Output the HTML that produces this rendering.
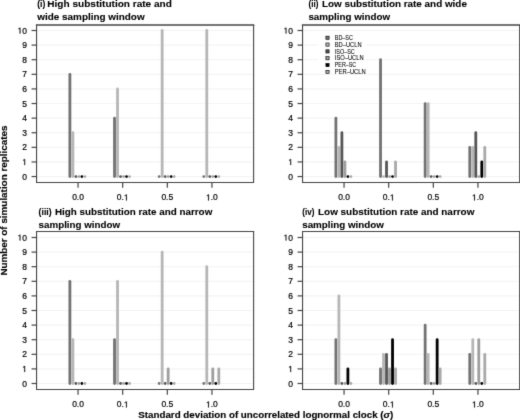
<!DOCTYPE html>
<html><head><meta charset="utf-8"><style>
html,body{margin:0;padding:0;background:#fff;}
body{width:520px;height:420px;overflow:hidden;}
svg{display:block;}
text{font-family:"Liberation Sans",sans-serif;}
.tl{font-size:8.5px;fill:#000;stroke:#000;stroke-width:0.2px;}
.one{fill:#000;stroke:#000;stroke-width:48px;}
.tt{font-size:9.9px;font-weight:bold;fill:#000;stroke:#000;stroke-width:0.1px;}
.at{font-size:9.78px;font-weight:bold;fill:#000;stroke:#000;stroke-width:0.15px;}
.lg{font-size:6.3px;fill:#000;stroke:#000;stroke-width:0.06px;}
</style></head><body>
<svg width="520" height="420" viewBox="0 0 520 420">
<defs><filter id="bl" x="0" y="0" width="520" height="420" filterUnits="userSpaceOnUse" color-interpolation-filters="sRGB"><feConvolveMatrix order="3" kernelMatrix="0.01134 0.08382 0.01134 0.08382 0.61935 0.08382 0.01134 0.08382 0.01134" edgeMode="duplicate" preserveAlpha="false"/></filter></defs>
<rect width="520" height="420" fill="#fff"/>
<g filter="url(#bl)">
<rect width="520" height="420" fill="#fff"/>
<line x1="36.55" y1="176.55" x2="253.60" y2="176.55" stroke="#efefef" stroke-width="0.8"/>
<line x1="36.55" y1="161.95" x2="253.60" y2="161.95" stroke="#efefef" stroke-width="0.8"/>
<line x1="36.55" y1="147.34" x2="253.60" y2="147.34" stroke="#efefef" stroke-width="0.8"/>
<line x1="36.55" y1="132.74" x2="253.60" y2="132.74" stroke="#efefef" stroke-width="0.8"/>
<line x1="36.55" y1="118.13" x2="253.60" y2="118.13" stroke="#efefef" stroke-width="0.8"/>
<line x1="36.55" y1="103.53" x2="253.60" y2="103.53" stroke="#efefef" stroke-width="0.8"/>
<line x1="36.55" y1="88.92" x2="253.60" y2="88.92" stroke="#efefef" stroke-width="0.8"/>
<line x1="36.55" y1="74.32" x2="253.60" y2="74.32" stroke="#efefef" stroke-width="0.8"/>
<line x1="36.55" y1="59.71" x2="253.60" y2="59.71" stroke="#efefef" stroke-width="0.8"/>
<line x1="36.55" y1="45.11" x2="253.60" y2="45.11" stroke="#efefef" stroke-width="0.8"/>
<line x1="36.55" y1="30.50" x2="253.60" y2="30.50" stroke="#efefef" stroke-width="0.8"/>
<line x1="69.90" y1="176.55" x2="69.90" y2="74.32" stroke="#727272" stroke-width="2.8" stroke-linecap="round"/>
<line x1="72.90" y1="176.55" x2="72.90" y2="132.74" stroke="#b6b6b6" stroke-width="2.8" stroke-linecap="round"/>
<line x1="75.90" y1="176.55" x2="75.90" y2="176.55" stroke="#555555" stroke-width="2.8" stroke-linecap="round"/>
<line x1="78.90" y1="176.55" x2="78.90" y2="176.55" stroke="#9e9e9e" stroke-width="2.8" stroke-linecap="round"/>
<line x1="81.90" y1="176.55" x2="81.90" y2="176.55" stroke="#000000" stroke-width="2.8" stroke-linecap="round"/>
<line x1="84.90" y1="176.55" x2="84.90" y2="176.55" stroke="#a9a9a9" stroke-width="2.8" stroke-linecap="round"/>
<line x1="114.53" y1="176.55" x2="114.53" y2="118.13" stroke="#727272" stroke-width="2.8" stroke-linecap="round"/>
<line x1="117.53" y1="176.55" x2="117.53" y2="88.92" stroke="#b6b6b6" stroke-width="2.8" stroke-linecap="round"/>
<line x1="120.53" y1="176.55" x2="120.53" y2="176.55" stroke="#555555" stroke-width="2.8" stroke-linecap="round"/>
<line x1="123.53" y1="176.55" x2="123.53" y2="176.55" stroke="#9e9e9e" stroke-width="2.8" stroke-linecap="round"/>
<line x1="126.53" y1="176.55" x2="126.53" y2="176.55" stroke="#000000" stroke-width="2.8" stroke-linecap="round"/>
<line x1="129.53" y1="176.55" x2="129.53" y2="176.55" stroke="#a9a9a9" stroke-width="2.8" stroke-linecap="round"/>
<line x1="159.16" y1="176.55" x2="159.16" y2="176.55" stroke="#727272" stroke-width="2.8" stroke-linecap="round"/>
<line x1="162.16" y1="176.55" x2="162.16" y2="30.50" stroke="#b6b6b6" stroke-width="2.8" stroke-linecap="round"/>
<line x1="165.16" y1="176.55" x2="165.16" y2="176.55" stroke="#555555" stroke-width="2.8" stroke-linecap="round"/>
<line x1="168.16" y1="176.55" x2="168.16" y2="176.55" stroke="#9e9e9e" stroke-width="2.8" stroke-linecap="round"/>
<line x1="171.16" y1="176.55" x2="171.16" y2="176.55" stroke="#000000" stroke-width="2.8" stroke-linecap="round"/>
<line x1="174.16" y1="176.55" x2="174.16" y2="176.55" stroke="#a9a9a9" stroke-width="2.8" stroke-linecap="round"/>
<line x1="203.79" y1="176.55" x2="203.79" y2="176.55" stroke="#727272" stroke-width="2.8" stroke-linecap="round"/>
<line x1="206.79" y1="176.55" x2="206.79" y2="30.50" stroke="#b6b6b6" stroke-width="2.8" stroke-linecap="round"/>
<line x1="209.79" y1="176.55" x2="209.79" y2="176.55" stroke="#555555" stroke-width="2.8" stroke-linecap="round"/>
<line x1="212.79" y1="176.55" x2="212.79" y2="176.55" stroke="#9e9e9e" stroke-width="2.8" stroke-linecap="round"/>
<line x1="215.79" y1="176.55" x2="215.79" y2="176.55" stroke="#000000" stroke-width="2.8" stroke-linecap="round"/>
<line x1="218.79" y1="176.55" x2="218.79" y2="176.55" stroke="#a9a9a9" stroke-width="2.8" stroke-linecap="round"/>
<path d="M36.55,24.98H253.60" stroke="#444" stroke-width="1.4" fill="none" stroke-linecap="square"/>
<path d="M36.55,24.98V182.50H253.60V24.98" stroke="#444" stroke-width="1.1" fill="none" stroke-linejoin="round"/>
<line x1="31.55" y1="176.55" x2="36.55" y2="176.55" stroke="#444" stroke-width="1.2"/>
<text x="22.22" y="179.60" class="tl">0</text>
<line x1="31.55" y1="161.95" x2="36.55" y2="161.95" stroke="#444" stroke-width="1.2"/>
<path class="one" transform="translate(22.22,165.00) scale(0.004150,-0.004150)" d="M515 0V1237L197 1010V1180L530 1409H696V0Z"/>
<line x1="31.55" y1="147.34" x2="36.55" y2="147.34" stroke="#444" stroke-width="1.2"/>
<text x="22.22" y="150.39" class="tl">2</text>
<line x1="31.55" y1="132.74" x2="36.55" y2="132.74" stroke="#444" stroke-width="1.2"/>
<text x="22.22" y="135.79" class="tl">3</text>
<line x1="31.55" y1="118.13" x2="36.55" y2="118.13" stroke="#444" stroke-width="1.2"/>
<text x="22.22" y="121.18" class="tl">4</text>
<line x1="31.55" y1="103.53" x2="36.55" y2="103.53" stroke="#444" stroke-width="1.2"/>
<text x="22.22" y="106.58" class="tl">5</text>
<line x1="31.55" y1="88.92" x2="36.55" y2="88.92" stroke="#444" stroke-width="1.2"/>
<text x="22.22" y="91.97" class="tl">6</text>
<line x1="31.55" y1="74.32" x2="36.55" y2="74.32" stroke="#444" stroke-width="1.2"/>
<text x="22.22" y="77.37" class="tl">7</text>
<line x1="31.55" y1="59.71" x2="36.55" y2="59.71" stroke="#444" stroke-width="1.2"/>
<text x="22.22" y="62.76" class="tl">8</text>
<line x1="31.55" y1="45.11" x2="36.55" y2="45.11" stroke="#444" stroke-width="1.2"/>
<text x="22.22" y="48.16" class="tl">9</text>
<line x1="31.55" y1="30.50" x2="36.55" y2="30.50" stroke="#444" stroke-width="1.2"/>
<path class="one" transform="translate(17.50,33.55) scale(0.004150,-0.004150)" d="M515 0V1237L197 1010V1180L530 1409H696V0Z"/><text x="22.22" y="33.55" class="tl">0</text>
<line x1="78.05" y1="182.50" x2="78.05" y2="187.80" stroke="#444" stroke-width="1.2"/>
<text x="72.14" y="200.40" class="tl">0.0</text>
<line x1="122.68" y1="182.50" x2="122.68" y2="187.80" stroke="#444" stroke-width="1.2"/>
<text x="116.77" y="200.40" class="tl">0.</text><path class="one" transform="translate(123.86,200.40) scale(0.004150,-0.004150)" d="M515 0V1237L197 1010V1180L530 1409H696V0Z"/>
<line x1="167.31" y1="182.50" x2="167.31" y2="187.80" stroke="#444" stroke-width="1.2"/>
<text x="161.40" y="200.40" class="tl">0.5</text>
<line x1="211.94" y1="182.50" x2="211.94" y2="187.80" stroke="#444" stroke-width="1.2"/>
<path class="one" transform="translate(206.03,200.40) scale(0.004150,-0.004150)" d="M515 0V1237L197 1010V1180L530 1409H696V0Z"/><text x="210.76" y="200.40" class="tl">.0</text>
<text x="37.20" y="7.35" class="tt" textLength="8.10" lengthAdjust="spacingAndGlyphs">(i)</text>
<text x="47.30" y="7.35" class="tt" textLength="124.60" lengthAdjust="spacingAndGlyphs">High substitution rate and</text>
<text x="37.30" y="19.75" class="tt" textLength="107.30" lengthAdjust="spacingAndGlyphs">wide sampling window</text>
<line x1="302.55" y1="176.55" x2="519.70" y2="176.55" stroke="#efefef" stroke-width="0.8"/>
<line x1="302.55" y1="161.95" x2="519.70" y2="161.95" stroke="#efefef" stroke-width="0.8"/>
<line x1="302.55" y1="147.34" x2="519.70" y2="147.34" stroke="#efefef" stroke-width="0.8"/>
<line x1="302.55" y1="132.74" x2="519.70" y2="132.74" stroke="#efefef" stroke-width="0.8"/>
<line x1="302.55" y1="118.13" x2="519.70" y2="118.13" stroke="#efefef" stroke-width="0.8"/>
<line x1="302.55" y1="103.53" x2="519.70" y2="103.53" stroke="#efefef" stroke-width="0.8"/>
<line x1="302.55" y1="88.92" x2="519.70" y2="88.92" stroke="#efefef" stroke-width="0.8"/>
<line x1="302.55" y1="74.32" x2="519.70" y2="74.32" stroke="#efefef" stroke-width="0.8"/>
<line x1="302.55" y1="59.71" x2="519.70" y2="59.71" stroke="#efefef" stroke-width="0.8"/>
<line x1="302.55" y1="45.11" x2="519.70" y2="45.11" stroke="#efefef" stroke-width="0.8"/>
<line x1="302.55" y1="30.50" x2="519.70" y2="30.50" stroke="#efefef" stroke-width="0.8"/>
<line x1="335.90" y1="176.55" x2="335.90" y2="118.13" stroke="#727272" stroke-width="2.8" stroke-linecap="round"/>
<line x1="338.90" y1="176.55" x2="338.90" y2="147.34" stroke="#b6b6b6" stroke-width="2.8" stroke-linecap="round"/>
<line x1="341.90" y1="176.55" x2="341.90" y2="132.74" stroke="#555555" stroke-width="2.8" stroke-linecap="round"/>
<line x1="344.90" y1="176.55" x2="344.90" y2="161.95" stroke="#9e9e9e" stroke-width="2.8" stroke-linecap="round"/>
<line x1="347.90" y1="176.55" x2="347.90" y2="176.55" stroke="#000000" stroke-width="2.8" stroke-linecap="round"/>
<line x1="350.90" y1="176.55" x2="350.90" y2="176.55" stroke="#a9a9a9" stroke-width="2.8" stroke-linecap="round"/>
<line x1="380.53" y1="176.55" x2="380.53" y2="59.71" stroke="#727272" stroke-width="2.8" stroke-linecap="round"/>
<line x1="383.53" y1="176.55" x2="383.53" y2="176.55" stroke="#b6b6b6" stroke-width="2.8" stroke-linecap="round"/>
<line x1="386.53" y1="176.55" x2="386.53" y2="161.95" stroke="#555555" stroke-width="2.8" stroke-linecap="round"/>
<line x1="389.53" y1="176.55" x2="389.53" y2="176.55" stroke="#9e9e9e" stroke-width="2.8" stroke-linecap="round"/>
<line x1="392.53" y1="176.55" x2="392.53" y2="176.55" stroke="#000000" stroke-width="2.8" stroke-linecap="round"/>
<line x1="395.53" y1="176.55" x2="395.53" y2="161.95" stroke="#a9a9a9" stroke-width="2.8" stroke-linecap="round"/>
<line x1="425.16" y1="176.55" x2="425.16" y2="103.53" stroke="#727272" stroke-width="2.8" stroke-linecap="round"/>
<line x1="428.16" y1="176.55" x2="428.16" y2="103.53" stroke="#b6b6b6" stroke-width="2.8" stroke-linecap="round"/>
<line x1="431.16" y1="176.55" x2="431.16" y2="176.55" stroke="#555555" stroke-width="2.8" stroke-linecap="round"/>
<line x1="434.16" y1="176.55" x2="434.16" y2="176.55" stroke="#9e9e9e" stroke-width="2.8" stroke-linecap="round"/>
<line x1="437.16" y1="176.55" x2="437.16" y2="176.55" stroke="#000000" stroke-width="2.8" stroke-linecap="round"/>
<line x1="440.16" y1="176.55" x2="440.16" y2="176.55" stroke="#a9a9a9" stroke-width="2.8" stroke-linecap="round"/>
<line x1="469.79" y1="176.55" x2="469.79" y2="147.34" stroke="#727272" stroke-width="2.8" stroke-linecap="round"/>
<line x1="472.79" y1="176.55" x2="472.79" y2="147.34" stroke="#b6b6b6" stroke-width="2.8" stroke-linecap="round"/>
<line x1="475.79" y1="176.55" x2="475.79" y2="132.74" stroke="#555555" stroke-width="2.8" stroke-linecap="round"/>
<line x1="478.79" y1="176.55" x2="478.79" y2="176.55" stroke="#9e9e9e" stroke-width="2.8" stroke-linecap="round"/>
<line x1="481.79" y1="176.55" x2="481.79" y2="161.95" stroke="#000000" stroke-width="2.8" stroke-linecap="round"/>
<line x1="484.79" y1="176.55" x2="484.79" y2="147.34" stroke="#a9a9a9" stroke-width="2.8" stroke-linecap="round"/>
<path d="M302.55,24.98H519.70" stroke="#444" stroke-width="1.4" fill="none" stroke-linecap="square"/>
<path d="M302.55,24.98V182.50H519.70V24.98" stroke="#444" stroke-width="1.1" fill="none" stroke-linejoin="round"/>
<line x1="297.55" y1="176.55" x2="302.55" y2="176.55" stroke="#444" stroke-width="1.2"/>
<text x="288.22" y="179.60" class="tl">0</text>
<line x1="297.55" y1="161.95" x2="302.55" y2="161.95" stroke="#444" stroke-width="1.2"/>
<path class="one" transform="translate(288.22,165.00) scale(0.004150,-0.004150)" d="M515 0V1237L197 1010V1180L530 1409H696V0Z"/>
<line x1="297.55" y1="147.34" x2="302.55" y2="147.34" stroke="#444" stroke-width="1.2"/>
<text x="288.22" y="150.39" class="tl">2</text>
<line x1="297.55" y1="132.74" x2="302.55" y2="132.74" stroke="#444" stroke-width="1.2"/>
<text x="288.22" y="135.79" class="tl">3</text>
<line x1="297.55" y1="118.13" x2="302.55" y2="118.13" stroke="#444" stroke-width="1.2"/>
<text x="288.22" y="121.18" class="tl">4</text>
<line x1="297.55" y1="103.53" x2="302.55" y2="103.53" stroke="#444" stroke-width="1.2"/>
<text x="288.22" y="106.58" class="tl">5</text>
<line x1="297.55" y1="88.92" x2="302.55" y2="88.92" stroke="#444" stroke-width="1.2"/>
<text x="288.22" y="91.97" class="tl">6</text>
<line x1="297.55" y1="74.32" x2="302.55" y2="74.32" stroke="#444" stroke-width="1.2"/>
<text x="288.22" y="77.37" class="tl">7</text>
<line x1="297.55" y1="59.71" x2="302.55" y2="59.71" stroke="#444" stroke-width="1.2"/>
<text x="288.22" y="62.76" class="tl">8</text>
<line x1="297.55" y1="45.11" x2="302.55" y2="45.11" stroke="#444" stroke-width="1.2"/>
<text x="288.22" y="48.16" class="tl">9</text>
<line x1="297.55" y1="30.50" x2="302.55" y2="30.50" stroke="#444" stroke-width="1.2"/>
<path class="one" transform="translate(283.50,33.55) scale(0.004150,-0.004150)" d="M515 0V1237L197 1010V1180L530 1409H696V0Z"/><text x="288.22" y="33.55" class="tl">0</text>
<line x1="344.05" y1="182.50" x2="344.05" y2="187.80" stroke="#444" stroke-width="1.2"/>
<text x="338.14" y="200.40" class="tl">0.0</text>
<line x1="388.68" y1="182.50" x2="388.68" y2="187.80" stroke="#444" stroke-width="1.2"/>
<text x="382.77" y="200.40" class="tl">0.</text><path class="one" transform="translate(389.86,200.40) scale(0.004150,-0.004150)" d="M515 0V1237L197 1010V1180L530 1409H696V0Z"/>
<line x1="433.31" y1="182.50" x2="433.31" y2="187.80" stroke="#444" stroke-width="1.2"/>
<text x="427.40" y="200.40" class="tl">0.5</text>
<line x1="477.94" y1="182.50" x2="477.94" y2="187.80" stroke="#444" stroke-width="1.2"/>
<path class="one" transform="translate(472.03,200.40) scale(0.004150,-0.004150)" d="M515 0V1237L197 1010V1180L530 1409H696V0Z"/><text x="476.76" y="200.40" class="tl">.0</text>
<text x="308.50" y="7.25" class="tt" textLength="9.85" lengthAdjust="spacingAndGlyphs">(ii)</text>
<text x="321.90" y="7.25" class="tt" textLength="145.00" lengthAdjust="spacingAndGlyphs">Low substitution rate and wide</text>
<text x="308.40" y="19.85" class="tt" textLength="81.70" lengthAdjust="spacingAndGlyphs">sampling window</text>
<line x1="36.55" y1="383.50" x2="253.60" y2="383.50" stroke="#efefef" stroke-width="0.8"/>
<line x1="36.55" y1="368.90" x2="253.60" y2="368.90" stroke="#efefef" stroke-width="0.8"/>
<line x1="36.55" y1="354.30" x2="253.60" y2="354.30" stroke="#efefef" stroke-width="0.8"/>
<line x1="36.55" y1="339.70" x2="253.60" y2="339.70" stroke="#efefef" stroke-width="0.8"/>
<line x1="36.55" y1="325.10" x2="253.60" y2="325.10" stroke="#efefef" stroke-width="0.8"/>
<line x1="36.55" y1="310.50" x2="253.60" y2="310.50" stroke="#efefef" stroke-width="0.8"/>
<line x1="36.55" y1="295.90" x2="253.60" y2="295.90" stroke="#efefef" stroke-width="0.8"/>
<line x1="36.55" y1="281.30" x2="253.60" y2="281.30" stroke="#efefef" stroke-width="0.8"/>
<line x1="36.55" y1="266.70" x2="253.60" y2="266.70" stroke="#efefef" stroke-width="0.8"/>
<line x1="36.55" y1="252.10" x2="253.60" y2="252.10" stroke="#efefef" stroke-width="0.8"/>
<line x1="36.55" y1="237.50" x2="253.60" y2="237.50" stroke="#efefef" stroke-width="0.8"/>
<line x1="69.90" y1="383.50" x2="69.90" y2="281.30" stroke="#727272" stroke-width="2.8" stroke-linecap="round"/>
<line x1="72.90" y1="383.50" x2="72.90" y2="339.70" stroke="#b6b6b6" stroke-width="2.8" stroke-linecap="round"/>
<line x1="75.90" y1="383.50" x2="75.90" y2="383.50" stroke="#555555" stroke-width="2.8" stroke-linecap="round"/>
<line x1="78.90" y1="383.50" x2="78.90" y2="383.50" stroke="#9e9e9e" stroke-width="2.8" stroke-linecap="round"/>
<line x1="81.90" y1="383.50" x2="81.90" y2="383.50" stroke="#000000" stroke-width="2.8" stroke-linecap="round"/>
<line x1="84.90" y1="383.50" x2="84.90" y2="383.50" stroke="#a9a9a9" stroke-width="2.8" stroke-linecap="round"/>
<line x1="114.53" y1="383.50" x2="114.53" y2="339.70" stroke="#727272" stroke-width="2.8" stroke-linecap="round"/>
<line x1="117.53" y1="383.50" x2="117.53" y2="281.30" stroke="#b6b6b6" stroke-width="2.8" stroke-linecap="round"/>
<line x1="120.53" y1="383.50" x2="120.53" y2="383.50" stroke="#555555" stroke-width="2.8" stroke-linecap="round"/>
<line x1="123.53" y1="383.50" x2="123.53" y2="383.50" stroke="#9e9e9e" stroke-width="2.8" stroke-linecap="round"/>
<line x1="126.53" y1="383.50" x2="126.53" y2="383.50" stroke="#000000" stroke-width="2.8" stroke-linecap="round"/>
<line x1="129.53" y1="383.50" x2="129.53" y2="383.50" stroke="#a9a9a9" stroke-width="2.8" stroke-linecap="round"/>
<line x1="159.16" y1="383.50" x2="159.16" y2="383.50" stroke="#727272" stroke-width="2.8" stroke-linecap="round"/>
<line x1="162.16" y1="383.50" x2="162.16" y2="252.10" stroke="#b6b6b6" stroke-width="2.8" stroke-linecap="round"/>
<line x1="165.16" y1="383.50" x2="165.16" y2="383.50" stroke="#555555" stroke-width="2.8" stroke-linecap="round"/>
<line x1="168.16" y1="383.50" x2="168.16" y2="368.90" stroke="#9e9e9e" stroke-width="2.8" stroke-linecap="round"/>
<line x1="171.16" y1="383.50" x2="171.16" y2="383.50" stroke="#000000" stroke-width="2.8" stroke-linecap="round"/>
<line x1="174.16" y1="383.50" x2="174.16" y2="383.50" stroke="#a9a9a9" stroke-width="2.8" stroke-linecap="round"/>
<line x1="203.79" y1="383.50" x2="203.79" y2="383.50" stroke="#727272" stroke-width="2.8" stroke-linecap="round"/>
<line x1="206.79" y1="383.50" x2="206.79" y2="266.70" stroke="#b6b6b6" stroke-width="2.8" stroke-linecap="round"/>
<line x1="209.79" y1="383.50" x2="209.79" y2="383.50" stroke="#555555" stroke-width="2.8" stroke-linecap="round"/>
<line x1="212.79" y1="383.50" x2="212.79" y2="368.90" stroke="#9e9e9e" stroke-width="2.8" stroke-linecap="round"/>
<line x1="215.79" y1="383.50" x2="215.79" y2="383.50" stroke="#000000" stroke-width="2.8" stroke-linecap="round"/>
<line x1="218.79" y1="383.50" x2="218.79" y2="368.90" stroke="#a9a9a9" stroke-width="2.8" stroke-linecap="round"/>
<path d="M36.55,231.50H253.60" stroke="#444" stroke-width="1.1" fill="none" stroke-linecap="square"/>
<path d="M36.55,231.50V389.50H253.60V231.50" stroke="#444" stroke-width="1.1" fill="none" stroke-linejoin="round"/>
<line x1="31.55" y1="383.50" x2="36.55" y2="383.50" stroke="#444" stroke-width="1.2"/>
<text x="22.22" y="386.55" class="tl">0</text>
<line x1="31.55" y1="368.90" x2="36.55" y2="368.90" stroke="#444" stroke-width="1.2"/>
<path class="one" transform="translate(22.22,371.95) scale(0.004150,-0.004150)" d="M515 0V1237L197 1010V1180L530 1409H696V0Z"/>
<line x1="31.55" y1="354.30" x2="36.55" y2="354.30" stroke="#444" stroke-width="1.2"/>
<text x="22.22" y="357.35" class="tl">2</text>
<line x1="31.55" y1="339.70" x2="36.55" y2="339.70" stroke="#444" stroke-width="1.2"/>
<text x="22.22" y="342.75" class="tl">3</text>
<line x1="31.55" y1="325.10" x2="36.55" y2="325.10" stroke="#444" stroke-width="1.2"/>
<text x="22.22" y="328.15" class="tl">4</text>
<line x1="31.55" y1="310.50" x2="36.55" y2="310.50" stroke="#444" stroke-width="1.2"/>
<text x="22.22" y="313.55" class="tl">5</text>
<line x1="31.55" y1="295.90" x2="36.55" y2="295.90" stroke="#444" stroke-width="1.2"/>
<text x="22.22" y="298.95" class="tl">6</text>
<line x1="31.55" y1="281.30" x2="36.55" y2="281.30" stroke="#444" stroke-width="1.2"/>
<text x="22.22" y="284.35" class="tl">7</text>
<line x1="31.55" y1="266.70" x2="36.55" y2="266.70" stroke="#444" stroke-width="1.2"/>
<text x="22.22" y="269.75" class="tl">8</text>
<line x1="31.55" y1="252.10" x2="36.55" y2="252.10" stroke="#444" stroke-width="1.2"/>
<text x="22.22" y="255.15" class="tl">9</text>
<line x1="31.55" y1="237.50" x2="36.55" y2="237.50" stroke="#444" stroke-width="1.2"/>
<path class="one" transform="translate(17.50,240.55) scale(0.004150,-0.004150)" d="M515 0V1237L197 1010V1180L530 1409H696V0Z"/><text x="22.22" y="240.55" class="tl">0</text>
<line x1="78.05" y1="389.50" x2="78.05" y2="394.80" stroke="#444" stroke-width="1.2"/>
<text x="72.14" y="407.40" class="tl">0.0</text>
<line x1="122.68" y1="389.50" x2="122.68" y2="394.80" stroke="#444" stroke-width="1.2"/>
<text x="116.77" y="407.40" class="tl">0.</text><path class="one" transform="translate(123.86,407.40) scale(0.004150,-0.004150)" d="M515 0V1237L197 1010V1180L530 1409H696V0Z"/>
<line x1="167.31" y1="389.50" x2="167.31" y2="394.80" stroke="#444" stroke-width="1.2"/>
<text x="161.40" y="407.40" class="tl">0.5</text>
<line x1="211.94" y1="389.50" x2="211.94" y2="394.80" stroke="#444" stroke-width="1.2"/>
<path class="one" transform="translate(206.03,407.40) scale(0.004150,-0.004150)" d="M515 0V1237L197 1010V1180L530 1409H696V0Z"/><text x="210.76" y="407.40" class="tl">.0</text>
<text x="38.60" y="215.00" class="tt" textLength="13.00" lengthAdjust="spacingAndGlyphs">(iii)</text>
<text x="54.90" y="215.00" class="tt" textLength="157.40" lengthAdjust="spacingAndGlyphs">High substitution rate and narrow</text>
<text x="38.60" y="227.70" class="tt" textLength="81.50" lengthAdjust="spacingAndGlyphs">sampling window</text>
<line x1="302.55" y1="383.50" x2="519.70" y2="383.50" stroke="#efefef" stroke-width="0.8"/>
<line x1="302.55" y1="368.90" x2="519.70" y2="368.90" stroke="#efefef" stroke-width="0.8"/>
<line x1="302.55" y1="354.30" x2="519.70" y2="354.30" stroke="#efefef" stroke-width="0.8"/>
<line x1="302.55" y1="339.70" x2="519.70" y2="339.70" stroke="#efefef" stroke-width="0.8"/>
<line x1="302.55" y1="325.10" x2="519.70" y2="325.10" stroke="#efefef" stroke-width="0.8"/>
<line x1="302.55" y1="310.50" x2="519.70" y2="310.50" stroke="#efefef" stroke-width="0.8"/>
<line x1="302.55" y1="295.90" x2="519.70" y2="295.90" stroke="#efefef" stroke-width="0.8"/>
<line x1="302.55" y1="281.30" x2="519.70" y2="281.30" stroke="#efefef" stroke-width="0.8"/>
<line x1="302.55" y1="266.70" x2="519.70" y2="266.70" stroke="#efefef" stroke-width="0.8"/>
<line x1="302.55" y1="252.10" x2="519.70" y2="252.10" stroke="#efefef" stroke-width="0.8"/>
<line x1="302.55" y1="237.50" x2="519.70" y2="237.50" stroke="#efefef" stroke-width="0.8"/>
<line x1="335.90" y1="383.50" x2="335.90" y2="339.70" stroke="#727272" stroke-width="2.8" stroke-linecap="round"/>
<line x1="338.90" y1="383.50" x2="338.90" y2="295.90" stroke="#b6b6b6" stroke-width="2.8" stroke-linecap="round"/>
<line x1="341.90" y1="383.50" x2="341.90" y2="383.50" stroke="#555555" stroke-width="2.8" stroke-linecap="round"/>
<line x1="344.90" y1="383.50" x2="344.90" y2="383.50" stroke="#9e9e9e" stroke-width="2.8" stroke-linecap="round"/>
<line x1="347.90" y1="383.50" x2="347.90" y2="368.90" stroke="#000000" stroke-width="2.8" stroke-linecap="round"/>
<line x1="350.90" y1="383.50" x2="350.90" y2="383.50" stroke="#a9a9a9" stroke-width="2.8" stroke-linecap="round"/>
<line x1="380.53" y1="383.50" x2="380.53" y2="368.90" stroke="#727272" stroke-width="2.8" stroke-linecap="round"/>
<line x1="383.53" y1="383.50" x2="383.53" y2="354.30" stroke="#b6b6b6" stroke-width="2.8" stroke-linecap="round"/>
<line x1="386.53" y1="383.50" x2="386.53" y2="354.30" stroke="#555555" stroke-width="2.8" stroke-linecap="round"/>
<line x1="389.53" y1="383.50" x2="389.53" y2="368.90" stroke="#9e9e9e" stroke-width="2.8" stroke-linecap="round"/>
<line x1="392.53" y1="383.50" x2="392.53" y2="339.70" stroke="#000000" stroke-width="2.8" stroke-linecap="round"/>
<line x1="395.53" y1="383.50" x2="395.53" y2="368.90" stroke="#a9a9a9" stroke-width="2.8" stroke-linecap="round"/>
<line x1="425.16" y1="383.50" x2="425.16" y2="325.10" stroke="#727272" stroke-width="2.8" stroke-linecap="round"/>
<line x1="428.16" y1="383.50" x2="428.16" y2="354.30" stroke="#b6b6b6" stroke-width="2.8" stroke-linecap="round"/>
<line x1="431.16" y1="383.50" x2="431.16" y2="383.50" stroke="#555555" stroke-width="2.8" stroke-linecap="round"/>
<line x1="434.16" y1="383.50" x2="434.16" y2="383.50" stroke="#9e9e9e" stroke-width="2.8" stroke-linecap="round"/>
<line x1="437.16" y1="383.50" x2="437.16" y2="339.70" stroke="#000000" stroke-width="2.8" stroke-linecap="round"/>
<line x1="440.16" y1="383.50" x2="440.16" y2="368.90" stroke="#a9a9a9" stroke-width="2.8" stroke-linecap="round"/>
<line x1="469.79" y1="383.50" x2="469.79" y2="354.30" stroke="#727272" stroke-width="2.8" stroke-linecap="round"/>
<line x1="472.79" y1="383.50" x2="472.79" y2="339.70" stroke="#b6b6b6" stroke-width="2.8" stroke-linecap="round"/>
<line x1="475.79" y1="383.50" x2="475.79" y2="383.50" stroke="#555555" stroke-width="2.8" stroke-linecap="round"/>
<line x1="478.79" y1="383.50" x2="478.79" y2="339.70" stroke="#9e9e9e" stroke-width="2.8" stroke-linecap="round"/>
<line x1="481.79" y1="383.50" x2="481.79" y2="383.50" stroke="#000000" stroke-width="2.8" stroke-linecap="round"/>
<line x1="484.79" y1="383.50" x2="484.79" y2="354.30" stroke="#a9a9a9" stroke-width="2.8" stroke-linecap="round"/>
<path d="M302.55,231.50H519.70" stroke="#444" stroke-width="1.1" fill="none" stroke-linecap="square"/>
<path d="M302.55,231.50V389.50H519.70V231.50" stroke="#444" stroke-width="1.1" fill="none" stroke-linejoin="round"/>
<line x1="297.55" y1="383.50" x2="302.55" y2="383.50" stroke="#444" stroke-width="1.2"/>
<text x="288.22" y="386.55" class="tl">0</text>
<line x1="297.55" y1="368.90" x2="302.55" y2="368.90" stroke="#444" stroke-width="1.2"/>
<path class="one" transform="translate(288.22,371.95) scale(0.004150,-0.004150)" d="M515 0V1237L197 1010V1180L530 1409H696V0Z"/>
<line x1="297.55" y1="354.30" x2="302.55" y2="354.30" stroke="#444" stroke-width="1.2"/>
<text x="288.22" y="357.35" class="tl">2</text>
<line x1="297.55" y1="339.70" x2="302.55" y2="339.70" stroke="#444" stroke-width="1.2"/>
<text x="288.22" y="342.75" class="tl">3</text>
<line x1="297.55" y1="325.10" x2="302.55" y2="325.10" stroke="#444" stroke-width="1.2"/>
<text x="288.22" y="328.15" class="tl">4</text>
<line x1="297.55" y1="310.50" x2="302.55" y2="310.50" stroke="#444" stroke-width="1.2"/>
<text x="288.22" y="313.55" class="tl">5</text>
<line x1="297.55" y1="295.90" x2="302.55" y2="295.90" stroke="#444" stroke-width="1.2"/>
<text x="288.22" y="298.95" class="tl">6</text>
<line x1="297.55" y1="281.30" x2="302.55" y2="281.30" stroke="#444" stroke-width="1.2"/>
<text x="288.22" y="284.35" class="tl">7</text>
<line x1="297.55" y1="266.70" x2="302.55" y2="266.70" stroke="#444" stroke-width="1.2"/>
<text x="288.22" y="269.75" class="tl">8</text>
<line x1="297.55" y1="252.10" x2="302.55" y2="252.10" stroke="#444" stroke-width="1.2"/>
<text x="288.22" y="255.15" class="tl">9</text>
<line x1="297.55" y1="237.50" x2="302.55" y2="237.50" stroke="#444" stroke-width="1.2"/>
<path class="one" transform="translate(283.50,240.55) scale(0.004150,-0.004150)" d="M515 0V1237L197 1010V1180L530 1409H696V0Z"/><text x="288.22" y="240.55" class="tl">0</text>
<line x1="344.05" y1="389.50" x2="344.05" y2="394.80" stroke="#444" stroke-width="1.2"/>
<text x="338.14" y="407.40" class="tl">0.0</text>
<line x1="388.68" y1="389.50" x2="388.68" y2="394.80" stroke="#444" stroke-width="1.2"/>
<text x="382.77" y="407.40" class="tl">0.</text><path class="one" transform="translate(389.86,407.40) scale(0.004150,-0.004150)" d="M515 0V1237L197 1010V1180L530 1409H696V0Z"/>
<line x1="433.31" y1="389.50" x2="433.31" y2="394.80" stroke="#444" stroke-width="1.2"/>
<text x="427.40" y="407.40" class="tl">0.5</text>
<line x1="477.94" y1="389.50" x2="477.94" y2="394.80" stroke="#444" stroke-width="1.2"/>
<path class="one" transform="translate(472.03,407.40) scale(0.004150,-0.004150)" d="M515 0V1237L197 1010V1180L530 1409H696V0Z"/><text x="476.76" y="407.40" class="tl">.0</text>
<text x="302.30" y="215.00" class="tt" textLength="12.10" lengthAdjust="spacingAndGlyphs">(iv)</text>
<text x="318.05" y="215.00" class="tt" textLength="156.30" lengthAdjust="spacingAndGlyphs">Low substitution rate and narrow</text>
<text x="302.20" y="227.80" class="tt" textLength="81.70" lengthAdjust="spacingAndGlyphs">sampling window</text>
<rect x="318" y="32" width="48" height="41.5" fill="#fff"/>
<rect x="325.90" y="36.15" width="3.2" height="3.2" fill="#727272" stroke="#000" stroke-width="0.6"/>
<text x="334.8" y="39.95" class="lg" textLength="18.1" lengthAdjust="spacingAndGlyphs">BD–SC</text>
<rect x="325.90" y="42.98" width="3.2" height="3.2" fill="#b6b6b6" stroke="#000" stroke-width="0.6"/>
<text x="334.8" y="46.78" class="lg" textLength="26.8" lengthAdjust="spacingAndGlyphs">BD–UCLN</text>
<rect x="325.90" y="49.81" width="3.2" height="3.2" fill="#555555" stroke="#000" stroke-width="0.6"/>
<text x="334.8" y="53.61" class="lg" textLength="19.9" lengthAdjust="spacingAndGlyphs">ISO–SC</text>
<rect x="325.90" y="56.64" width="3.2" height="3.2" fill="#9e9e9e" stroke="#000" stroke-width="0.6"/>
<text x="334.8" y="60.44" class="lg" textLength="28.8" lengthAdjust="spacingAndGlyphs">ISO–UCLN</text>
<rect x="325.90" y="63.47" width="3.2" height="3.2" fill="#000000" stroke="#000" stroke-width="0.6"/>
<text x="334.8" y="67.27" class="lg" textLength="21.4" lengthAdjust="spacingAndGlyphs">PER–SC</text>
<rect x="325.90" y="70.30" width="3.2" height="3.2" fill="#a9a9a9" stroke="#000" stroke-width="0.6"/>
<text x="334.8" y="74.10" class="lg" textLength="30.9" lengthAdjust="spacingAndGlyphs">PER–UCLN</text>
<text x="138.3" y="418.4" class="at">Standard deviation of uncorrelated lognormal clock (<tspan font-style="italic">σ</tspan>)</text>
<text transform="translate(7.1,275.6) rotate(-90)" x="0" y="0" class="at" textLength="150" lengthAdjust="spacingAndGlyphs">Number of simulation replicates</text>
</g>
</svg>
</body></html>
